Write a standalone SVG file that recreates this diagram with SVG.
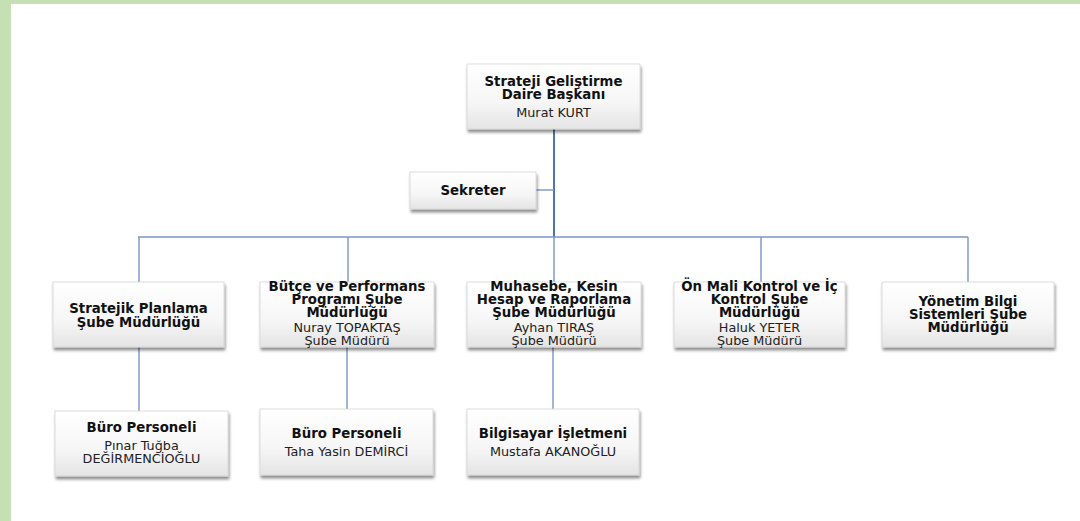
<svg xmlns="http://www.w3.org/2000/svg" width="1080" height="521" viewBox="0 0 1080 521">
<style>
.box{fill:url(#g);stroke:#d4d4d4;stroke-width:0.8;filter:url(#sh)}
.b{font-family:"DejaVu Sans",Verdana,sans-serif;font-weight:bold;font-size:13.3px;fill:#111;text-anchor:middle}
.r{font-family:"DejaVu Sans",Verdana,sans-serif;font-size:12.8px;fill:#222;text-anchor:middle}
.c{stroke:#7896c6;stroke-width:1.4;fill:none}
.t{stroke:#4f74b2;stroke-width:2;fill:none}
</style>
<defs>
<linearGradient id="g" x1="0" y1="0" x2="0" y2="1">
<stop offset="0" stop-color="#ffffff"/>
<stop offset="0.6" stop-color="#f6f6f6"/>
<stop offset="1" stop-color="#e4e4e4"/>
</linearGradient>
<filter id="sh" x="-10%" y="-10%" width="125%" height="140%">
<feGaussianBlur in="SourceAlpha" stdDeviation="1.8"/>
<feOffset dx="1" dy="3" result="o"/>
<feComponentTransfer><feFuncA type="linear" slope="0.45"/></feComponentTransfer>
<feMerge><feMergeNode/><feMergeNode in="SourceGraphic"/></feMerge>
</filter>
</defs>
<rect x="0" y="0" width="1080" height="521" fill="#ffffff"/>
<rect x="0" y="0" width="1080" height="4" fill="#c5e0b3"/>
<rect x="0" y="0" width="11" height="521" fill="#c5e0b3"/>
<g id="connectors">
<path class="t" d="M554 129 V237"/>
<path class="c" d="M536 190 H554"/>
<path class="c" d="M138 237 H968"/>
<path class="c" d="M139 237 V282"/>
<path class="c" d="M348 237 V282"/>
<path class="c" d="M554 237 V282"/>
<path class="c" d="M761 237 V282"/>
<path class="c" d="M968 237 V282"/>
<path class="c" d="M139 347 V411"/>
<path class="c" d="M347 347 V409"/>
<path class="c" d="M553 347 V409"/>
</g>
<g id="n-daire">
<rect class="box" x="467" y="64" width="173" height="65"/>
<text class="b" x="553.5" y="86">Strateji Geliştirme</text>
<text class="b" x="553.5" y="99">Daire Başkanı</text>
<text class="r" x="553.5" y="117">Murat KURT</text>
</g>
<g id="n-sekreter">
<rect class="box" x="410" y="172" width="126" height="37"/>
<text class="b" x="473" y="195">Sekreter</text>
</g>
<g id="n-stratejik">
<rect class="box" x="53" y="282" width="171" height="65"/>
<text class="b" x="138.5" y="313">Stratejik Planlama</text>
<text class="b" x="138.5" y="327">Şube Müdürlüğü</text>
</g>
<g id="n-butce">
<rect class="box" x="260" y="282" width="174" height="65"/>
<text class="b" x="347" y="291">Bütçe ve Performans</text>
<text class="b" x="347" y="304">Programı Şube</text>
<text class="b" x="347" y="317">Müdürlüğü</text>
<text class="r" x="347" y="332">Nuray TOPAKTAŞ</text>
<text class="r" x="347" y="345">Şube Müdürü</text>
</g>
<g id="n-muhasebe">
<rect class="box" x="467" y="282" width="174" height="65"/>
<text class="b" x="554" y="291">Muhasebe, Kesin</text>
<text class="b" x="554" y="304">Hesap ve Raporlama</text>
<text class="b" x="554" y="317">Şube Müdürlüğü</text>
<text class="r" x="554" y="332">Ayhan TIRAŞ</text>
<text class="r" x="554" y="345">Şube Müdürü</text>
</g>
<g id="n-onmali">
<rect class="box" x="674" y="282" width="171" height="65"/>
<text class="b" x="759.5" y="291">Ön Mali Kontrol ve İç</text>
<text class="b" x="759.5" y="304">Kontrol Şube</text>
<text class="b" x="759.5" y="317">Müdürlüğü</text>
<text class="r" x="759.5" y="332">Haluk YETER</text>
<text class="r" x="759.5" y="345">Şube Müdürü</text>
</g>
<g id="n-yonetim">
<rect class="box" x="882" y="282" width="172" height="65"/>
<text class="b" x="968" y="306">Yönetim Bilgi</text>
<text class="b" x="968" y="319">Sistemleri Şube</text>
<text class="b" x="968" y="332">Müdürlüğü</text>
</g>
<g id="n-buro1">
<rect class="box" x="55" y="411" width="173" height="65"/>
<text class="b" x="141.5" y="432">Büro Personeli</text>
<text class="r" x="141.5" y="450">Pınar Tuğba</text>
<text class="r" x="141.5" y="463">DEĞİRMENCİOĞLU</text>
</g>
<g id="n-buro2">
<rect class="box" x="260" y="409" width="173" height="66"/>
<text class="b" x="346.5" y="438">Büro Personeli</text>
<text class="r" x="346.5" y="456">Taha Yasin DEMİRCİ</text>
</g>
<g id="n-bilgisayar">
<rect class="box" x="467" y="409" width="172" height="66"/>
<text class="b" x="553" y="438">Bilgisayar İşletmeni</text>
<text class="r" x="553" y="456">Mustafa AKANOĞLU</text>
</g>
</svg>
